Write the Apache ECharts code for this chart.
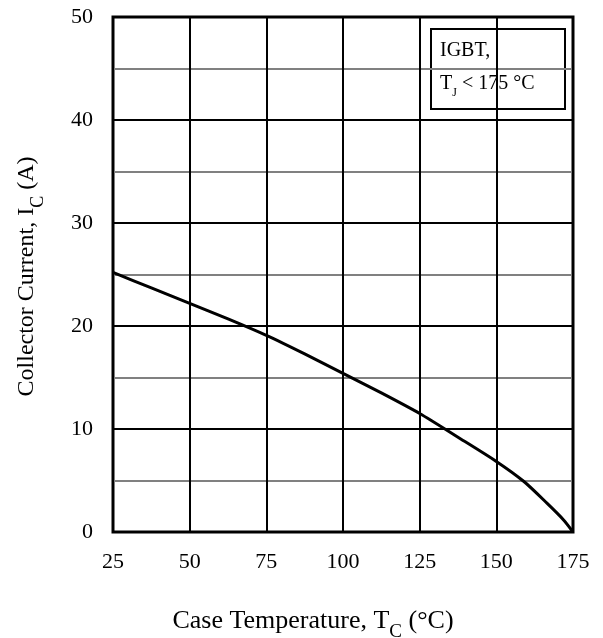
<!DOCTYPE html>
<html>
<head>
<meta charset="utf-8">
<script src="https://cdn.jsdelivr.net/npm/echarts@6/dist/echarts.min.js"></script>
<style>
  html, body { margin: 0; padding: 0; background: #fff; }
  #chart { width: 603px; height: 638px; }
</style>
</head>
<body>
<div id="chart"></div>
<script>
// Maximum DC collector current vs. case temperature
const caseTemp = [25, 37.5, 50, 62.5, 75, 87.5, 100, 112.5, 125, 137.5, 150, 159, 166.5, 172, 175];
const collectorCurrent = [25.2, 23.7, 22.2, 20.7, 19.1, 17.3, 15.4, 13.5, 11.5, 9.2, 6.85, 4.9, 2.8, 1.15, 0];
const xTicks = [25, 50, 75, 100, 125, 150, 175];
const yTicks = [0, 10, 20, 30, 40, 50];

const serif = '"Liberation Serif", "Times New Roman", serif';
const chart = echarts.init(document.getElementById('chart'));

chart.setOption({
  animation: false,
  backgroundColor: '#fff',
  grid: {
    left: 113, top: 17, width: 460, height: 515,
    outerBoundsMode: 'none',
    containLabel: false,
    show: true, borderColor: '#000', borderWidth: 3, backgroundColor: 'transparent'
  },
  xAxis: {
    type: 'value',
    min: xTicks[0], max: xTicks[xTicks.length - 1], interval: 25,
    axisLine: { show: false },
    axisTick: { show: false },
    axisLabel: { color: '#000', fontFamily: serif, fontSize: 22, margin: 19 },
    splitLine: { show: true, lineStyle: { color: '#000', width: 2 } },
    name: '{n|Case Temperature, T}{s|C}{n| (°C)}',
    nameLocation: 'middle',
    nameGap: 76,
    nameTextStyle: {
      padding: [0, 60, 0, 0],
      rich: {
        n: { fontFamily: serif, fontSize: 26, color: '#000' },
        s: { fontFamily: serif, fontSize: 19, color: '#000', verticalAlign: 'bottom', padding: [0, 0, -8, 0] }
      }
    }
  },
  yAxis: {
    type: 'value',
    min: yTicks[0], max: yTicks[yTicks.length - 1], interval: 10,
    axisLine: { show: false },
    axisTick: { show: false },
    axisLabel: { color: '#000', fontFamily: serif, fontSize: 22, margin: 20 },
    splitLine: { show: true, lineStyle: { color: '#000', width: 2 } },
    minorTick: { show: false, splitNumber: 2 },
    minorSplitLine: { show: true, lineStyle: { color: '#808080', width: 2 } },
    name: '{n|Collector Current, I}{s|C}{n| (A)}',
    nameLocation: 'middle',
    nameGap: 74,
    nameRotate: 90,
    nameTextStyle: {
      padding: [0, 4, 0, 0],
      rich: {
        n: { fontFamily: serif, fontSize: 24, color: '#000' },
        s: { fontFamily: serif, fontSize: 18, color: '#000', verticalAlign: 'bottom', padding: [0, 0, -8, 0] }
      }
    }
  },
  series: [{
    type: 'line',
    data: caseTemp.map((t, i) => [t, collectorCurrent[i]]),
    smooth: 0.25,
    showSymbol: false,
    lineStyle: { color: '#000', width: 3 },
    z: 5
  }],
  graphic: [{
    type: 'group',
    left: 430, top: 28,
    z: 100,
    children: [
      {
        type: 'rect',
        shape: { x: 0, y: 0, width: 134, height: 80 },
        style: { fill: '#fff', stroke: '#000', lineWidth: 2 }
      },
      {
        type: 'text',
        left: 9, top: 12,
        style: { text: 'IGBT,', font: '20px ' + serif, fill: '#000' }
      },
      {
        type: 'text',
        left: 9, top: 45,
        style: {
          text: '{n|T}{s|J}{n| < 175 °C}',
          rich: {
            n: { fontFamily: serif, fontSize: 20, color: '#000' },
            s: { fontFamily: serif, fontSize: 12, color: '#000', verticalAlign: 'bottom', padding: [0, 0, -5, 0] }
          }
        }
      }
    ]
  }]
});
</script>
</body>
</html>
